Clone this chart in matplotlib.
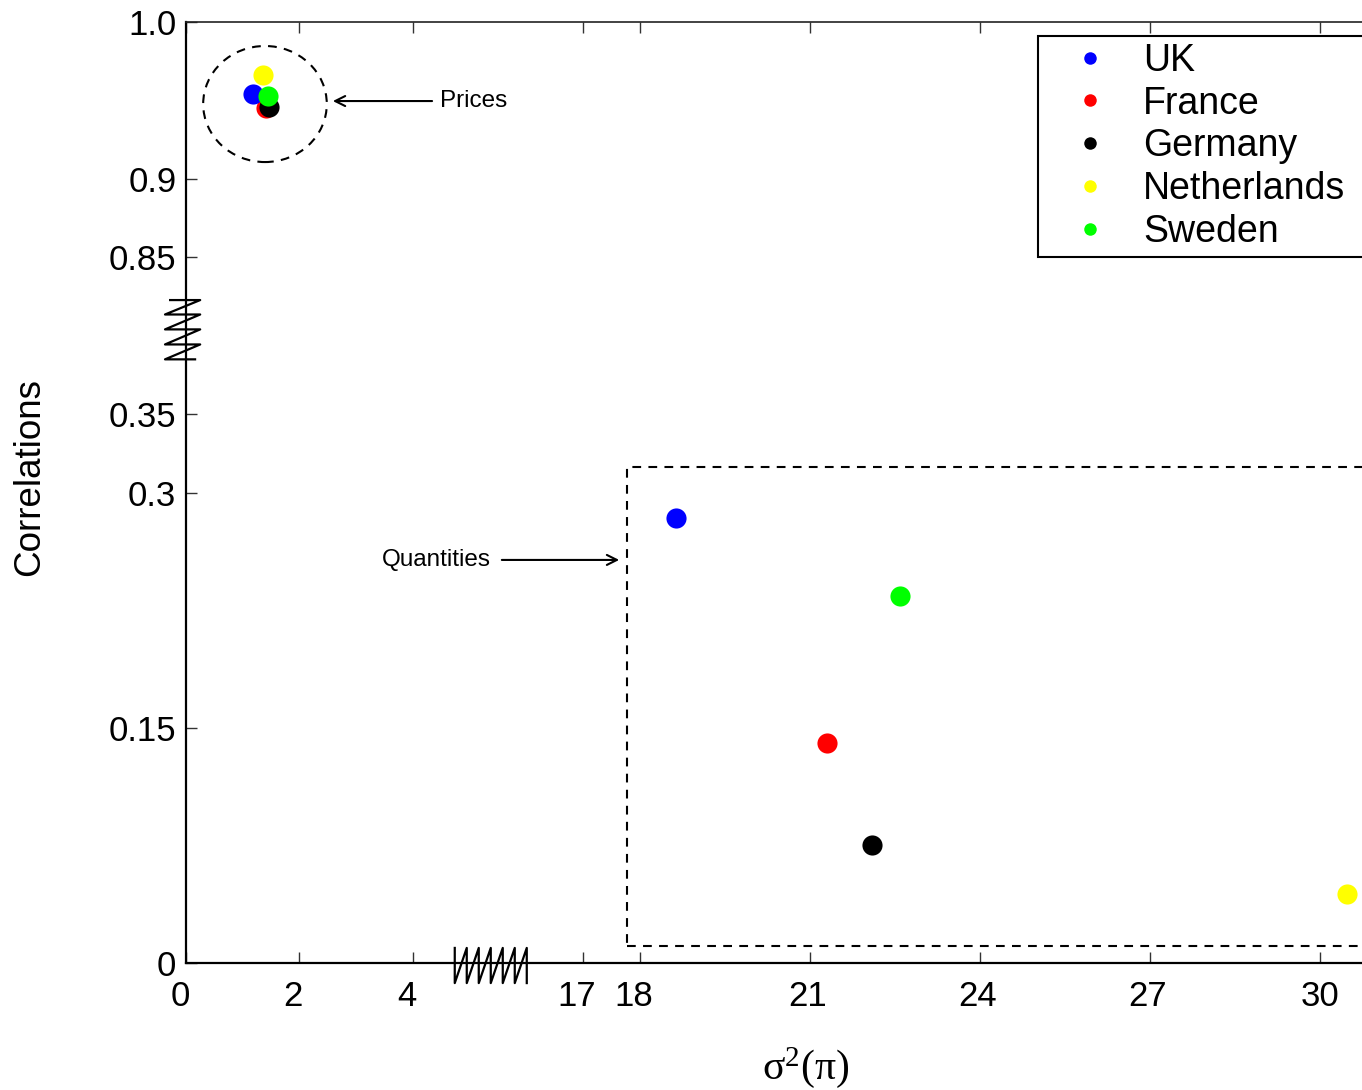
import matplotlib
matplotlib.use("Agg")
import matplotlib.pyplot as plt
import matplotlib.transforms as mtransforms
from matplotlib.patches import Ellipse, Rectangle
from matplotlib.lines import Line2D

# ---------------- data ----------------
countries = ["UK", "France", "Germany", "Netherlands", "Sweden"]
colors = ["#0000ff", "#ff0000", "#000000", "#ffff00", "#00ff00"]

# Prices: (variance, correlation)
price_var = [1.19, 1.41, 1.47, 1.35, 1.45]
price_corr = [0.954, 0.945, 0.946, 0.966, 0.953]

# Quantities: (variance, correlation)
qty_var = [18.64, 21.30, 22.10, 30.48, 22.59]
qty_corr = [0.284, 0.140, 0.075, 0.044, 0.234]

x_tick_vals = [0, 2, 4, 17, 18, 21, 24, 27, 30]
x_tick_labels = ["0", "2", "4", "17", "18", "21", "24", "27", "30"]
y_tick_vals = [0, 0.15, 0.3, 0.35, 0.85, 0.9, 1.0]
y_tick_labels = ["0", "0.15", "0.3", "0.35", "0.85", "0.9", "1.0"]

# broken-axis mapping
X_BREAK, X_SHIFT = 10.0, 10.0
Y_BREAK, Y_SHIFT = 0.6, 0.4


def fx(v):
    return v - X_SHIFT if v > X_BREAK else v


def fy(v):
    return v - Y_SHIFT if v > Y_BREAK else v


plt.rcParams["font.family"] = ["Liberation Sans", "DejaVu Sans"]
plt.rcParams["mathtext.fontset"] = "custom"
plt.rcParams["mathtext.rm"] = "Liberation Serif"
plt.rcParams["mathtext.it"] = "Liberation Serif"

fig = plt.figure(figsize=(13.62, 10.90), dpi=100)
XMAX = 21.5
ax = fig.add_axes([186 / 1362, 127 / 1090, XMAX * 56.7 / 1362, 941 / 1090])
ax.set_xlim(0, XMAX)
ax.set_ylim(0, 0.6)

# quantity points
for i, c in enumerate(countries):
    ax.plot(fx(qty_var[i]), fy(qty_corr[i]), "o", color=colors[i],
            markersize=14.5, markeredgewidth=0, zorder=3, clip_on=False)
# price points in visual stacking order
order = [1, 2, 0, 3, 4]
for i in order:
    ax.plot(fx(price_var[i]), fy(price_corr[i]), "o", color=colors[i],
            markersize=14.5, markeredgewidth=0, zorder=4)

dash = (0, (4.2, 3.5))
# dashed ellipse around prices
ax.add_patch(Ellipse((1.393, fy(0.9477)), 2.18, 0.074, fill=False,
                     edgecolor="black", lw=1.5, linestyle=dash, zorder=2))
# dashed rectangle around quantities
ax.add_patch(Rectangle((fx(17.78), 0.0108), 20, 0.3055, fill=False,
                       edgecolor="black", lw=1.5, linestyle=dash, zorder=2))

# annotations
ax.annotate("", xy=(2.59, fy(0.9496)), xytext=(4.34, fy(0.9496)),
            arrowprops=dict(arrowstyle="->", lw=1.5, color="black",
                            mutation_scale=18, shrinkA=0, shrinkB=0))
ax.text(4.48, fy(0.9496), "Prices", fontsize=17.5, va="center", ha="left")
ax.annotate("", xy=(7.64, 0.257), xytext=(5.57, 0.257),
            arrowprops=dict(arrowstyle="->", lw=1.5, color="black",
                            mutation_scale=18, shrinkA=0, shrinkB=0))
ax.text(5.38, 0.257, "Quantities", fontsize=17.5, va="center", ha="right")

# ticks
ax.set_xticks([fx(v) for v in x_tick_vals])
ax.set_xticklabels(x_tick_labels, fontsize=25)
ax.set_yticks([fy(v) for v in y_tick_vals])
ax.set_yticklabels(y_tick_labels, fontsize=25)
ax.tick_params(direction="in", length=8, width=1.0, color="#333333",
               top=True, right=True)
ax.tick_params(axis="y", pad=7)
ax.tick_params(axis="x", pad=12)
for v, lbl in zip(x_tick_vals, ax.get_xticklabels()):
    dx = -0.06 if v <= 18 else (-0.02 if v < 30 else 0.0)
    off = mtransforms.ScaledTranslation(dx, 0, fig.dpi_scale_trans)
    lbl.set_transform(lbl.get_transform() + off)

for side in ["left", "bottom"]:
    ax.spines[side].set_linewidth(1.6)
ax.spines["top"].set_linewidth(1.2)
ax.spines["top"].set_color("#222222")

# break marks (y-axis)
yz_x = [-0.28, 0.25, -0.37, 0.25, -0.37, 0.25, -0.37, 0.25, -0.37, 0.16]
yz_y = [0.4227, 0.4227, 0.4135, 0.4135, 0.4040, 0.4040, 0.3944, 0.3944, 0.3849, 0.3849]
ax.add_line(Line2D(yz_x, yz_y, color="black", lw=1.6, clip_on=False, zorder=5))

# break marks (x-axis)
xs, ys = [], []
n_teeth = 6
x0, x1 = 4.74, 6.01
top_y, bot_y = 0.0096, -0.0128
step = (x1 - x0) / n_teeth
for k in range(n_teeth + 1):
    xk = x0 + k * step
    xs += [xk, xk]
    ys += [top_y, bot_y]
ax.add_line(Line2D(xs, ys, color="black", lw=1.6, clip_on=False, zorder=5))

# legend
handles = [Line2D([], [], marker="o", linestyle="none", color=colors[i],
                  markersize=9, markeredgewidth=0) for i in range(len(countries))]
lx0 = (1038 - 186) / (XMAX * 56.7)
ly1 = (963 - 36) / 941
lw_ = (1385 - 1038) / (XMAX * 56.7)
leg = ax.legend(handles, countries, loc="upper left",
                bbox_to_anchor=(lx0, ly1 - 0.5, lw_, 0.5), mode="expand",
                borderaxespad=0, fontsize=27, frameon=True, fancybox=False,
                edgecolor="black", borderpad=0.18, handlelength=2.41,
                handletextpad=0.21, labelspacing=0.18)
leg.get_frame().set_linewidth(1.5)
leg.get_frame().set_alpha(1)

# axis labels
fig.text(30 / 1362, 1 - 477 / 1090, "Correlations", rotation=90,
         fontsize=26.5, ha="center", va="center")
fig.text(806 / 1362, 1 - 1068 / 1090, r"$\mathrm{\sigma}^{2}(\mathrm{\pi})$",
         fontsize=30, ha="center", va="center")

fig.savefig("out.png", dpi=100)
